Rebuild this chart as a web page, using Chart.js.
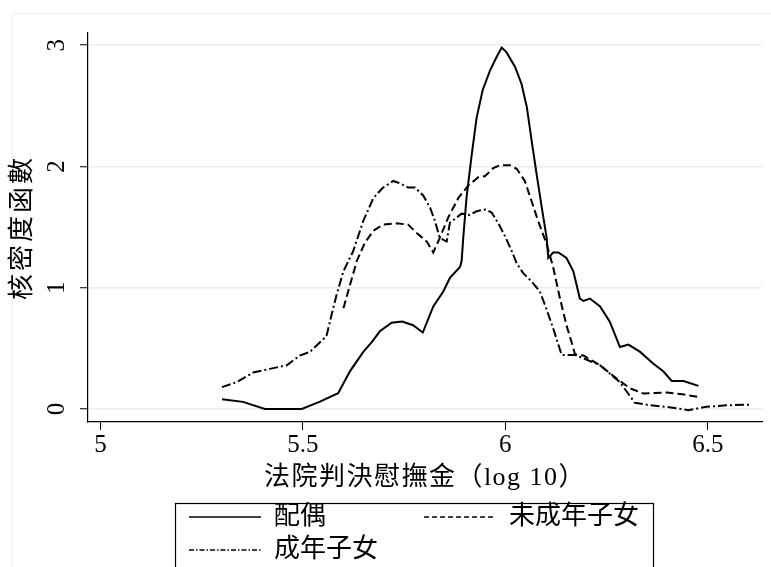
<!DOCTYPE html>
<html>
<head>
<meta charset="utf-8">
<script src="https://cdn.jsdelivr.net/npm/chart.js@4.4.1/dist/chart.umd.min.js"></script>
<style>
  html, body { margin: 0; padding: 0; background: #fff; overflow: hidden; }
  canvas { display: block; }
</style>
</head>
<body>
<canvas id="c" width="771" height="567"></canvas>
<script>
// ---- data ----
const seriesNames = ['配偶', '未成年子女', '成年子女'];

const spouseX = [5.300,5.352,5.406,5.450,5.497,5.542,5.587,5.616,5.649,5.670,5.690,5.719,5.745,5.772,5.796,5.822,5.847,5.863,5.888,5.892,5.896,5.904,5.917,5.929,5.944,5.962,5.978,5.991,6.003,6.024,6.040,6.053,6.065,6.077,6.090,6.102,6.106,6.118,6.131,6.151,6.168,6.184,6.193,6.209,6.234,6.258,6.283,6.304,6.333,6.365,6.390,6.411,6.440,6.477];
const spouseY = [0.08,0.058,0,0,0,0.06,0.13,0.31,0.47,0.55,0.64,0.71,0.72,0.69,0.63,0.845,0.97,1.08,1.17,1.22,1.41,1.74,2.10,2.40,2.63,2.79,2.90,2.98,2.94,2.82,2.68,2.49,2.21,1.94,1.66,1.41,1.245,1.29,1.29,1.245,1.135,0.91,0.89,0.91,0.845,0.72,0.51,0.53,0.47,0.375,0.31,0.23,0.23,0.19];

const minorX = [5.600,5.616,5.633,5.653,5.674,5.698,5.731,5.760,5.781,5.806,5.822,5.838,5.859,5.884,5.908,5.933,5.950,5.970,5.987,6.011,6.028,6.048,6.065,6.081,6.102,6.118,6.135,6.151,6.168,6.172,6.193,6.234,6.275,6.308,6.341,6.399,6.437,6.474];
const minorY = [0.83,1.02,1.22,1.37,1.47,1.52,1.53,1.52,1.45,1.38,1.29,1.41,1.58,1.74,1.84,1.91,1.92,1.985,2.01,2.01,1.98,1.88,1.71,1.55,1.36,1.17,0.91,0.69,0.50,0.45,0.44,0.36,0.25,0.17,0.127,0.135,0.12,0.10];

const adultX = [5.300,5.336,5.377,5.418,5.460,5.492,5.517,5.558,5.571,5.583,5.600,5.624,5.649,5.674,5.698,5.723,5.740,5.760,5.777,5.797,5.814,5.826,5.838,5.855,5.863,5.892,5.912,5.929,5.950,5.966,5.982,5.999,6.016,6.028,6.044,6.065,6.085,6.102,6.118,6.131,6.139,6.172,6.234,6.283,6.320,6.357,6.399,6.452,6.497,6.547,6.604];
const adultY = [0.18,0.22,0.30,0.33,0.36,0.44,0.47,0.60,0.78,0.94,1.135,1.30,1.55,1.74,1.825,1.88,1.86,1.825,1.825,1.76,1.66,1.55,1.41,1.38,1.535,1.61,1.60,1.63,1.645,1.62,1.535,1.425,1.30,1.20,1.12,1.05,0.97,0.82,0.665,0.53,0.445,0.445,0.36,0.22,0.05,0.03,0.017,-0.01,0.017,0.03,0.035];

const xTicks = [5, 5.5, 6, 6.5];
const yTicks = [0, 1, 2, 3];
const xTitle = '法院判決慰撫金（log 10）';
const yTitle = '核密度函數';

// ---- chart ----
const zip = (xs, ys) => xs.map((x, i) => ({ x: x, y: ys[i] }));
const FONT = "'Liberation Serif', 'Noto Sans CJK TC', serif";
const dashes = [[], [8, 4], [9, 3, 2, 3]];
const legendDashes = [[], [5, 3], [5, 2, 1.5, 2]];
const legendPad = ['\u3000\u3000\u3000  ', '', ''];

function spacedTitle(scale, spacing) {
  const orig = scale.drawTitle;
  if (orig.__spaced) return;
  const wrapped = function () {
    const ctx = this.ctx;
    const prev = ctx.letterSpacing;
    ctx.letterSpacing = spacing;
    orig.apply(this, arguments);
    ctx.letterSpacing = prev || '0px';
  };
  wrapped.__spaced = true;
  scale.drawTitle = wrapped;
}

const decor = {
  id: 'decor',
  afterLayout(chart) {
    const lg = chart.legend;
    lg.left = 182; lg.right = 653; lg.top = 497; lg.bottom = 580;
    lg.width = lg.right - lg.left; lg.height = lg.bottom - lg.top;
    spacedTitle(chart.scales.x, '1.5px');
    spacedTitle(chart.scales.y, '3px');
  },
  beforeDraw(chart) {
    const ctx = chart.ctx;
    ctx.save();
    ctx.strokeStyle = '#eef1f2';
    ctx.lineWidth = 1;
    ctx.strokeRect(12.5, 13.5, 800, 600);
    ctx.restore();
  },
  afterDraw(chart) {
    const ctx = chart.ctx;
    ctx.save();
    ctx.strokeStyle = '#000';
    ctx.lineWidth = 1.2;
    ctx.strokeRect(175.5, 503.5, 478, 80);
    ctx.restore();
  }
};

new Chart(document.getElementById('c'), {
  type: 'line',
  data: {
    datasets: [
      { label: seriesNames[0], data: zip(spouseX, spouseY) },
      { label: seriesNames[1], data: zip(minorX, minorY) },
      { label: seriesNames[2], data: zip(adultX, adultY) }
    ].map((d, i) => Object.assign(d, {
      borderColor: '#000', backgroundColor: '#000', borderWidth: 2,
      borderDash: dashes[i], pointRadius: 0, tension: 0, fill: false
    }))
  },
  options: {
    responsive: false,
    animation: false,
    layout: { padding: { top: 33, left: 0, right: 9, bottom: 72 } },
    plugins: {
      tooltip: { enabled: false },
      legend: {
        position: 'bottom',
        align: 'start',
        maxHeight: 1,
        labels: {
          usePointStyle: true,
          pointStyle: 'line',
          pointStyleWidth: 72,
          padding: 7,
          color: '#000',
          font: { family: FONT, size: 26 },
          generateLabels(chart) {
            return chart.data.datasets.map((d, i) => ({
              text: d.label + legendPad[i],
              fillStyle: 'rgba(0,0,0,0)',
              strokeStyle: '#000',
              lineWidth: 1.3,
              lineDash: legendDashes[i],
              pointStyle: 'line',
              hidden: false,
              datasetIndex: i,
              fontColor: '#000'
            }));
          }
        }
      }
    },
    scales: {
      x: {
        type: 'linear',
        min: 4.969, max: 6.634,
        afterBuildTicks(s) { s.ticks = xTicks.map(v => ({ value: v })); },
        afterFit(s) { s.height = 72; },
        ticks: { color: '#000', padding: 0, maxRotation: 0, font: { family: FONT, size: 25 },
                 callback: v => String(v) },
        grid: { drawOnChartArea: false, drawTicks: true, tickLength: 8, tickColor: '#000', tickWidth: 1 },
        border: { display: true, color: '#000', width: 1.2 },
        title: { display: true, text: xTitle, color: '#000', padding: 0,
                 font: { family: FONT, size: 26, lineHeight: 1.2 } }
      },
      y: {
        type: 'linear',
        min: -0.108, max: 3.10,
        afterBuildTicks(s) { s.ticks = yTicks.map(v => ({ value: v })); },
        afterFit(s) { s.width = 88; },
        ticks: { color: '#000', padding: 16, minRotation: 90, maxRotation: 90, crossAlign: 'center',
                 font: { family: FONT, size: 25 }, callback: v => String(v) },
        grid: { color: '#e7eef0', lineWidth: 1.5, drawTicks: true, tickLength: 8, tickColor: '#000', tickWidth: 1 },
        border: { display: true, color: '#000', width: 1.2 },
        title: { display: true, text: yTitle, color: '#000', padding: { top: 8, bottom: 0 },
                 font: { family: FONT, size: 26, lineHeight: 1.2 } }
      }
    }
  },
  plugins: [decor]
});
</script>
</body>
</html>
